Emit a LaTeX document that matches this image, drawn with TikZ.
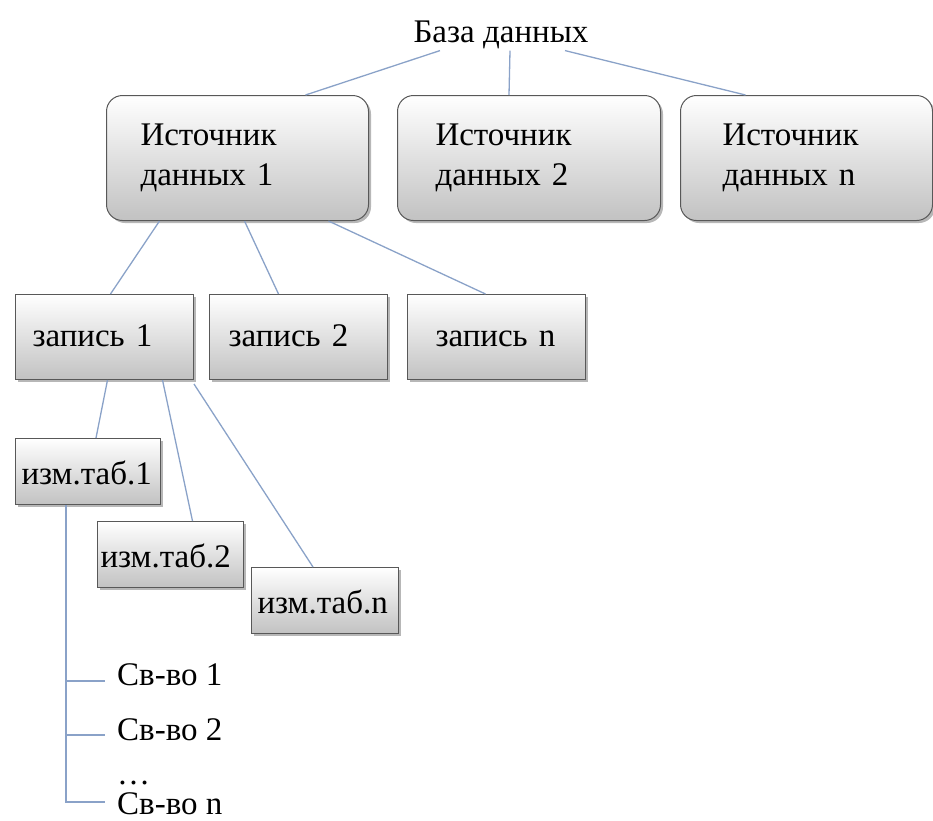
\documentclass[tikz,border=0pt]{standalone}
\usepackage{fontspec}
\setmainfont{Liberation Serif}
\usetikzlibrary{calc,shadows}
\definecolor{linkblue}{RGB}{138,162,200}
\definecolor{boxline}{RGB}{88,88,88}
\tikzset{
    box/.style={draw=boxline, line width=1pt, top color=white, bottom color=black!24,
        drop shadow={shadow xshift=2.5pt, shadow yshift=-2.5pt, opacity=0.4, fill=black!70},
        font=\fontsize{33}{40}\selectfont, anchor=north west, align=left, inner ysep=0pt},
    source/.style={box, rounded corners=16pt, minimum height=125pt},
    record/.style={box, minimum height=85pt, inner xsep=17pt, text width=144pt,
        execute at begin node={\rule[-4pt]{0pt}{27pt}}},
    table/.style={box, minimum height=66pt, inner xsep=3pt, text width=140pt,
        execute at begin node={\rule[-2pt]{0pt}{29pt}}},
    prop/.style={font=\fontsize{33}{40}\selectfont, anchor=base west, inner xsep=12pt, inner ysep=0pt},
    link/.style={draw=linkblue, line width=1.3pt},
}
\begin{document}
\begin{tikzpicture}[x=1pt, y=-1pt]
    \useasboundingbox (0,0) rectangle (933,820);
    %% Database
    \node[prop, anchor=base, inner sep=2pt] (db) at (501,42) {База данных};
    %% Sources
    \node[source, inner xsep=34pt, text width=194pt] (src1) at (106,95) {Источник\\данных 1};
    \node[source, inner xsep=38pt, text width=187pt] (src2) at (397,95) {Источник\\данных 2};
    \node[source, inner xsep=42pt, text width=168pt] (srcn) at (680,95) {Источник\\данных n};
    %% Records
    \node[record] (zap1) at (15,294) {запись 1};
    \node[record, inner xsep=19pt, text width=140pt] (zap2) at (209,294) {запись 2};
    \node[record, inner xsep=28pt, text width=122pt] (zapn) at (407,294) {запись n};
    %% Tables
    \node[table, inner xsep=6pt, text width=133pt] (izm1) at (15,438) {изм.таб.1};
    \node[table] (izm2) at (97,521) {изм.таб.2};
    \node[table, inner xsep=6pt, text width=135pt] (izmn) at (251,567) {изм.таб.n};
    %% Properties
    \node[prop] (p1) at (105,685) {Св-во 1};
    \node[prop] (p2) at (105,740) {Св-во 2};
    \node[prop] (pdots) at (105,784) {\dots};
    \node[prop] (pn) at (105,814) {Св-во n};

    %% Links
    \draw[link]
    ([xshift=-61pt]db.south) -- ([xshift=68pt]src1.north)
    ([xshift=9pt]db.south) -- ([xshift=-20pt]src2.north)
    ([xshift=64pt]db.south) -- ([xshift=-61pt]srcn.north)
    ([xshift=-78pt]src1.south) -- ([xshift=6pt]zap1.north)
    ([xshift=7pt]src1.south) -- ([xshift=-20pt]zap2.north)
    ([xshift=91pt]src1.south) -- ([xshift=-11pt]zapn.north)
    ([xshift=3pt]zap1.south) -- ([xshift=8pt]izm1.north)
    ([xshift=58pt]zap1.south) -- ([xshift=22pt]izm2.north)
    ([yshift=-4pt]zap1.south east) -- ([xshift=-12pt]izmn.north)
    ;
    \coordinate (trunk) at ([xshift=-22pt]izm1.south);
    \coordinate (t1) at ([yshift=4pt]p1.base west);
    \coordinate (t2) at ([yshift=5pt]p2.base west);
    \coordinate (tn) at ([yshift=12pt]pn.base west);
    \draw[link]
    (trunk) |- (tn)
    (t1 -| trunk) -- (t1)
    (t2 -| trunk) -- (t2)
    ;
\end{tikzpicture}
\end{document}
